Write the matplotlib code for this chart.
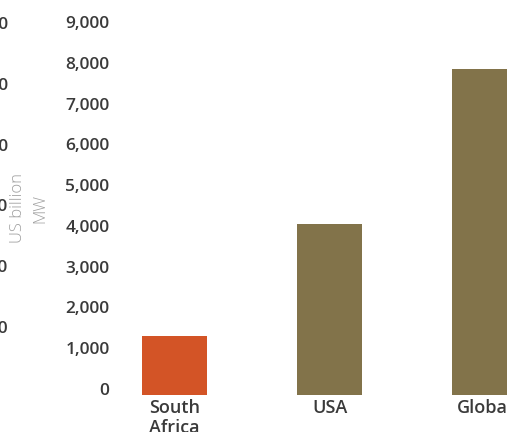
import matplotlib.pyplot as plt
import matplotlib.ticker as mticker
import matplotlib.transforms as mtrans

regions = ['South\nAfrica', 'USA', 'Global']
capacity_mw = [1450, 4200, 8000]
bar_colors = ['#D35426', '#82734A', '#82734A']

y_ticks = [0, 1000, 2000, 3000, 4000, 5000, 6000, 7000, 8000, 9000]
left_ticks = [500, 1000, 1500, 2000, 2500, 3000]

plt.rcParams['font.family'] = ['Open Sans', 'DejaVu Sans']
text_color = '#3a3a3a'

fig = plt.figure(figsize=(5.07, 4.32), dpi=100)
ax = fig.add_axes([115 / 507, 37 / 432, 392 / 507, 367 / 432])

ax.bar(range(len(regions)), capacity_mw, width=0.42, color=bar_colors)
ax.set_xlim(-0.384, 2.145)
ax.set_ylim(0, 9000)
ax.set_yticks(y_ticks)
ax.yaxis.set_major_formatter(mticker.StrMethodFormatter('{x:,.0f}'))
ax.set_xticks(range(len(regions)))
ax.set_xticklabels(regions, linespacing=1.1)
ax.tick_params(axis='y', length=0, labelsize=12.5, colors=text_color, pad=4)
ax.tick_params(axis='x', length=0, labelsize=13, colors=text_color, pad=3)
for s in ax.spines.values():
    s.set_visible(False)

# second value axis further left, mostly off the canvas
ax2 = ax.twinx()
ax2.yaxis.set_ticks_position('left')
ax2.set_ylim(-9.9, 3008)
ax2.set_yticks(left_ticks)
ax2.yaxis.set_major_formatter(mticker.StrMethodFormatter('{x:,.0f}'))
ax2.tick_params(length=0, labelsize=12.5, colors=text_color, pad=(115 - 8) / 1.389)
for s in ax2.spines.values():
    s.set_visible(False)

# value labels sit a little above their gridline position
lift = mtrans.ScaledTranslation(0, 6 / 100, fig.dpi_scale_trans)
for lbl in ax.get_yticklabels() + ax2.get_yticklabels():
    lbl.set_transform(lbl.get_transform() + lift)
for lbl in ax.get_xticklabels() + ax.get_yticklabels() + ax2.get_yticklabels():
    lbl.set_fontweight('semibold')

fig.text(29 / 507, 1 - 208 / 432, 'US billion\nMW', rotation=90, ha='center', va='center',
         fontsize=12, color='#a0a0a0', fontweight='light', linespacing=1.5)

fig.savefig('out.png', dpi=100)
